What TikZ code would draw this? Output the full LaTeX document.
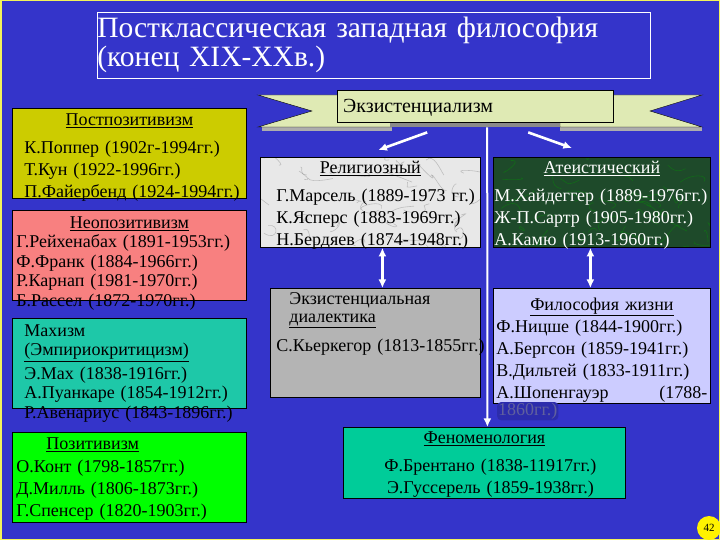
\documentclass[tikz,border=0pt]{standalone}
\usepackage{fontspec}
\setmainfont{Liberation Serif}
\usetikzlibrary{arrows.meta,positioning,calc}
\definecolor{Sky}{HTML}{3434CA}
\definecolor{Lemon}{HTML}{F2F25A}
\definecolor{Olive}{HTML}{CCCC00}
\definecolor{Salmon}{HTML}{F88080}
\definecolor{Mach}{HTML}{1EC8A8}
\definecolor{Lime}{HTML}{00FF00}
\definecolor{Marble}{HTML}{E8E8E8}
\definecolor{Forest}{HTML}{1E4A2A}
\definecolor{Slate}{HTML}{B4B4B4}
\definecolor{Lilac}{HTML}{CCCCFF}
\definecolor{Phen}{HTML}{00CC99}
\definecolor{Ribbon}{HTML}{DFEAB4}
\definecolor{Fold}{HTML}{8A8A8A}
\newcommand\boxfont{\fontsize{18}{22}\selectfont}
\newcommand\head[1]{\makebox[\linewidth]{\underline{#1}}}
\tikzset{
 panel/.style={draw=black,line width=0.8pt,anchor=north west,align=left,
   font=\boxfont,inner ysep=0pt},
 rows/.style 2 args={text height=#1,text depth=#2},
 titlebox/.style={draw=white,line width=0.6pt,anchor=north west,align=left,
   text=white,inner sep=0pt,minimum width=553pt,minimum height=66pt,
   text width=553pt,font=\fontsize{29.5}{29}\selectfont},
 ribbon/.style={draw=black,fill=Ribbon,anchor=north west,align=left,
   minimum width=276pt,text width=264pt,inner xsep=6pt,inner ysep=0pt,
   rows={22pt}{10pt},font=\fontsize{20}{22}\selectfont},
 marble/.style={path picture={
   \foreach \k in {1,...,45}{
     \pgfmathsetmacro\mx{rnd*230}\pgfmathsetmacro\my{rnd*110}
     \draw[#1,line width=.6pt,opacity=.4]
       ([shift={(\mx,\my)}]path picture bounding box.north west)
       .. controls +(rnd*30-15,rnd*20-10) and +(rnd*30-15,rnd*20-10) .. +(rnd*50-25,rnd*30-15);
   }}},
 arr/.style={-{Latex[length=3mm,width=2.8mm]},line width=2.6pt,draw=white},
 darr/.style={arr,{Latex[length=3mm,width=2.8mm]}-{Latex[length=3mm,width=2.8mm]}},
 pagenum/.style={circle,fill=yellow,inner sep=1pt,minimum size=24pt,
   font=\fontsize{11}{11}\selectfont}
}

\begin{document}
\begin{tikzpicture}[x=1pt,y=-1pt]
\pgfmathsetseed{11}
\useasboundingbox (0,0) rectangle (720,540);
\clip (0,0) rectangle (720,540);
\fill[Sky] (0,0) rectangle (720,540);
\draw[Lemon,line width=3pt] (0,0) rectangle (720,540);
\node[titlebox] (title) at (97,12) {Постклассическая западная философия\\(конец XIX-XXв.)};

% banner
\fill[Fold!70] (262,127) rectangle (392,131);
\fill[Fold!70] (560,127) rectangle (702,131);
\filldraw[fill=Ribbon,draw=black] (258,95) -- (392,95) -- (392,127) -- (258,127) -- (312,111) -- cycle;
\filldraw[fill=Ribbon,draw=black] (702,95) -- (560,95) -- (560,127) -- (702,127) -- (650,111) -- cycle;
\fill[Fold] (390,121) rectangle (560,127);
\node[ribbon] (exist) at (337,90) {Экзистенциализм};

% left column
\node[panel,fill=Olive,minimum width=234pt,text width=226pt,inner xsep=4pt,rows={17pt}{73pt}] (postpos) at (12,108)
 {\head{Постпозитивизм}\\[6pt]\mbox{\hspace*{8pt}К.Поппер (1902г-1994гг.)}\\\mbox{\hspace*{8pt}Т.Кун (1922-1996гг.)}\\\mbox{\hspace*{8pt}П.Файербенд (1924-1994гг.)}};
\node[panel,fill=Salmon,minimum width=234pt,text width=226pt,inner xsep=4pt,rows={18pt}{72pt},
 font=\fontsize{18}{19.5}\selectfont] (neopos) at (12,210)
 {\head{Неопозитивизм}\\Г.Рейхенабах (1891-1953гг.)\\Ф.Франк (1884-1966гг.)\\Р.Карнап (1981-1970гг.)\\Б.Рассел (1872-1970гг.)};
\node[panel,fill=Mach,minimum width=234pt,text width=226pt,inner xsep=4pt,rows={18pt}{72pt},
 font=\fontsize{18}{19.5}\selectfont] (mach) at (12,318)
 {\hspace*{8pt}Махизм\\\hspace*{8pt}\underline{(Эмпириокритицизм)}\\[4pt]\hspace*{8pt}Э.Мах (1838-1916гг.)\\\hspace*{8pt}А.Пуанкаре (1854-1912гг.)\\\hspace*{8pt}Р.Авенариус (1843-1896гг.)};
\node[panel,fill=Lime,minimum width=234pt,text width=226pt,inner xsep=4pt,rows={17pt}{73pt}] (pos) at (12,432)
 {\hspace*{30pt}\underline{Позитивизм}\\[1pt]О.Конт (1798-1857гг.)\\Д.Милль (1806-1873гг.)\\Г.Спенсер (1820-1903гг.)};

% existentialism branches
\node[panel,fill=Marble,marble=gray,minimum width=220pt,text width=206pt,inner xsep=7pt,rows={16pt}{74pt}] (relig) at (260,157)
 {\head{Религиозный}\\[6pt]\mbox{\hspace*{9pt}Г.Марсель (1889-1973 гг.)}\\\mbox{\hspace*{9pt}К.Ясперс (1883-1969гг.)}\\\mbox{\hspace*{9pt}Н.Бердяев (1874-1948гг.)}};
\node[panel,fill=Forest,marble=green!60!black,text=white,minimum width=217pt,text width=215pt,inner xsep=1pt,rows={16pt}{74pt}] (atheist) at (493,157)
 {\head{Атеистический}\\[6pt]М.Хайдеггер (1889-1976гг.)\\Ж-П.Сартр (1905-1980гг.)\\А.Камю (1913-1960гг.)};
\node[panel,fill=Slate,minimum width=210pt,text width=208pt,inner xsep=1pt,rows={16pt}{93pt},
 font=\fontsize{18}{18}\selectfont] (dial) at (270,288)
 {\hspace*{18pt}Экзистенциальная\\\hspace*{18pt}\underline{диалектика}\\[11pt]\mbox{\hspace*{5pt}С.Кьеркегор (1813-1855гг.)}};
\node[panel,fill=Lilac,minimum width=217pt,text width=211pt,inner xsep=3pt,rows={22pt}{93pt}] (life) at (493,288)
 {\head{Философия жизни}\\Ф.Ницше (1844-1900гг.)\\А.Бергсон (1859-1941гг.)\\В.Дильтей (1833-1911гг.)\\\makebox[\linewidth][s]{А.Шопенгауэр\hfill(1788-}};
\node[anchor=north west,fill=Sky!85!black,rounded corners=4pt,inner sep=1pt,text=Sky!40!gray,font=\boxfont] (spill)
 at ([xshift=4pt,yshift=2pt]life.south west) {1860гг.)};
\node[panel,fill=Phen,align=center,minimum width=282pt,text width=270pt,inner xsep=6pt,rows={16pt}{55pt}] (phen) at (343,427)
 {\underline{Феноменология}\\[6pt]\hspace*{12pt}Ф.Брентано (1838-11917гг.)\\\hspace*{12pt}Э.Гуссерель (1859-1938гг.)};

% connectors
\draw[arr] ([xshift=-48pt,yshift=-10pt]exist.south) -- ([xshift=8pt,yshift=7pt]relig.north);
\draw[arr] ([xshift=53pt,yshift=-10pt]exist.south) -- ([xshift=-30pt,yshift=9pt]atheist.north);
\draw[arr,line width=2pt] ([xshift=12pt,yshift=-5pt]exist.south) -- ([xshift=3pt]phen.north);
\draw[darr] ([xshift=12pt]relig.south) -- ([xshift=7pt]dial.north);
\draw[darr] ([xshift=-11.5pt]atheist.south) -- ([xshift=-11.5pt]life.north);

\node[pagenum] (page) at (709,528) {42};
\end{tikzpicture}
\end{document}
